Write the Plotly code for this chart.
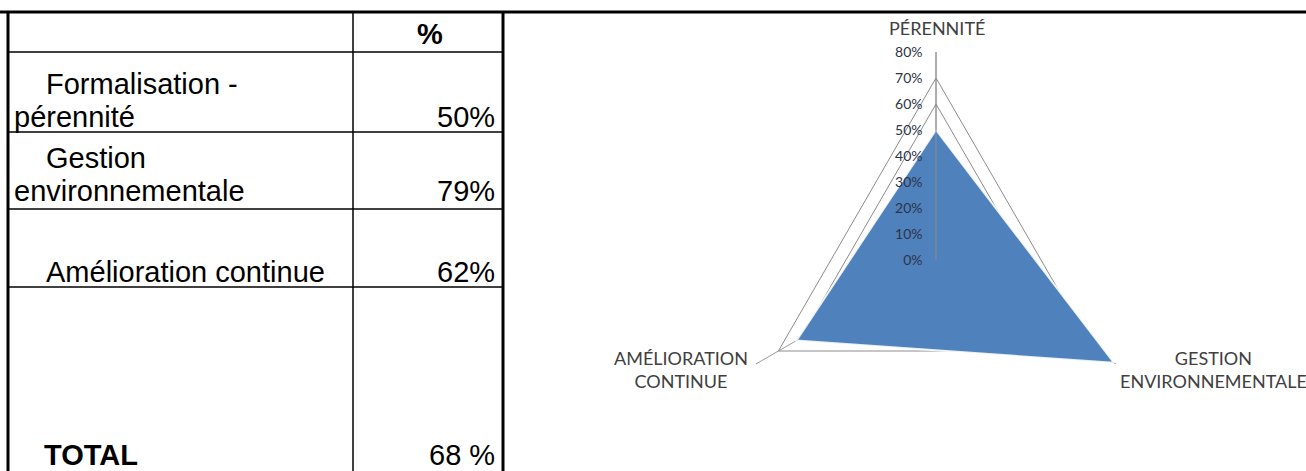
import plotly.graph_objects as go

# ---------------- data ----------------
table_header = "%"
row_label_lines = [["Formalisation -", "pérennité"],
                   ["Gestion", "environnementale"],
                   ["Amélioration continue"]]
row_values = ["50%", "79%", "62%"]
total_label = "TOTAL"
total_value = "68 %"

radar_axes = ["PÉRENNITÉ", "GESTION ENVIRONNEMENTALE", "AMÉLIORATION CONTINUE"]
radar_axis_labels = ["PÉRENNITÉ", "GESTION<br>ENVIRONNEMENTALE", "AMÉLIORATION<br>CONTINUE"]
radar_values = [0.50, 0.79, 0.62]
radial_ticks = [0, 0.1, 0.2, 0.3, 0.4, 0.5, 0.6, 0.7, 0.8]
radial_tick_labels = ["0%", "10%", "20%", "30%", "40%", "50%", "60%", "70%", "80%"]

# ---------------- layout helpers ----------------
W, H = 1306, 471


def X(px):
    return px / W


def Y(py):
    return 1 - py / H


fig = go.Figure()

# radar area
fig.add_trace(go.Scatterpolar(
    r=radar_values + radar_values[:1],
    theta=radar_axes + radar_axes[:1],
    mode="lines",
    fill="toself",
    fillcolor="#4F81BD",
    line=dict(color="rgba(255,255,255,0.85)", width=2),
    hoverinfo="skip",
    showlegend=False,
))

pad = "<span style='color:rgba(0,0,0,0)'>0</span>"
cx, cy, R = 936, 260, 208
fig.update_layout(
    width=W, height=H,
    margin=dict(l=0, r=0, t=0, b=0),
    paper_bgcolor="white",
    plot_bgcolor="white",
    showlegend=False,
    polar=dict(
        domain=dict(x=[X(cx - R), X(cx + R)], y=[Y(cy + R), Y(cy - R)]),
        bgcolor="white",
        gridshape="linear",
        radialaxis=dict(
            range=[0, 0.8],
            tickvals=radial_ticks,
            ticktext=[t + pad for t in radial_tick_labels],
            angle=90,
            side="counterclockwise",
            tickangle=90,
            showline=True,
            linecolor="#8c8c8c",
            linewidth=1,
            gridcolor="#8c8c8c",
            gridwidth=1,
            ticks="",
            tickfont=dict(family="Lato", size=14, color="#2d3448"),
            layer="above traces",
        ),
        angularaxis=dict(
            rotation=90,
            direction="clockwise",
            showticklabels=False,
            ticks="",
            showline=False,
            gridcolor="#9a9a9a",
            gridwidth=1,
        ),
    ),
)

# radar axis labels
label_pos = [(937, 28), (1213, 369), (681, 369)]
for txt, (lx, ly) in zip(radar_axis_labels, label_pos):
    fig.add_annotation(x=X(lx), y=Y(ly), xref="paper", yref="paper",
                       text=txt, showarrow=False, xanchor="center", yanchor="middle",
                       font=dict(family="Lato", size=18, color="#404040"))

# ---------------- table ----------------
shapes = []
def line(x0, y0, x1, y1, w):
    shapes.append(dict(type="line", xref="paper", yref="paper",
                       x0=X(x0), y0=Y(y0), x1=X(x1), y1=Y(y1),
                       line=dict(color="black", width=w)))

line(0, 12, W, 12, 3)          # top border spanning page
line(8, 12, 8, H, 3)           # left border
line(503, 12, 503, H, 3)       # right table border
line(353, 12, 353, H, 1.5)     # column divider
for ry in [52, 132, 209, 287]:
    line(8, ry, 503, ry, 1.5)
fig.update_layout(shapes=shapes)

tfont = dict(family="Liberation Sans, Arial", size=29, color="black")
bfont = dict(family="Liberation Sans, Arial", size=29, color="black", weight="bold")

fig.add_annotation(x=X(430), y=Y(34), xref="paper", yref="paper", text=table_header,
                   showarrow=False, xanchor="center", yanchor="middle", font=bfont)

line_y = [[84, 117], [158, 191], [272]]
for lines, ys, val in zip(row_label_lines, line_y, row_values):
    for i, (t, yy) in enumerate(zip(lines, ys)):
        indent = 44 if i == 0 else 12
        fig.add_annotation(x=X(indent), y=Y(yy), xref="paper", yref="paper", text=t,
                           showarrow=False, xanchor="left", yanchor="middle", font=tfont)
    fig.add_annotation(x=X(497), y=Y(ys[-1]), xref="paper", yref="paper", text=val,
                       showarrow=False, xanchor="right", yanchor="middle", font=tfont)

fig.add_annotation(x=X(42), y=Y(455), xref="paper", yref="paper", text=total_label,
                   showarrow=False, xanchor="left", yanchor="middle", font=bfont)
fig.add_annotation(x=X(497), y=Y(455), xref="paper", yref="paper", text=total_value,
                   showarrow=False, xanchor="right", yanchor="middle", font=tfont)

fig.write_html("out.html", config={"displayModeBar": False},
               post_script="document.body.style.margin='0';document.body.style.overflow='hidden';")
